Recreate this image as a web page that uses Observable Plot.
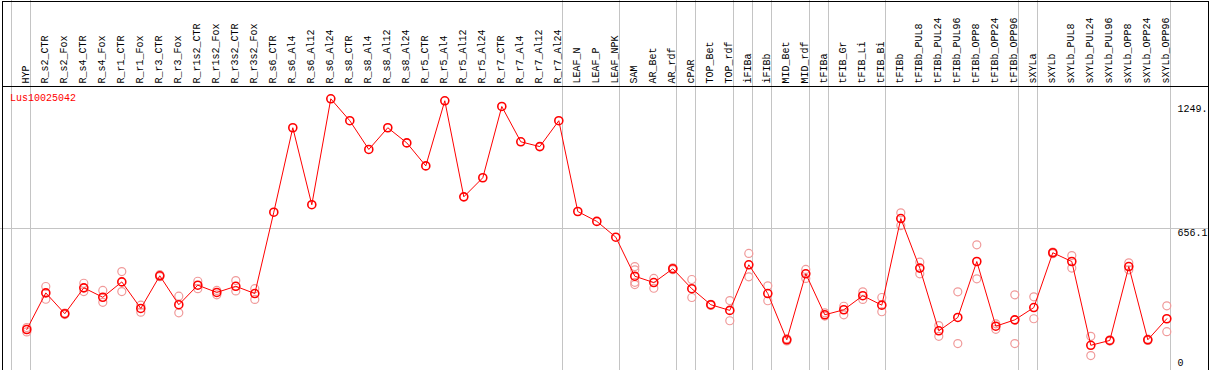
<!DOCTYPE html>
<html><head><meta charset="utf-8">
<script src="https://cdn.jsdelivr.net/npm/d3@7"></script>
<script src="https://cdn.jsdelivr.net/npm/@observablehq/plot@0.6"></script>
<style>html,body{margin:0;padding:0;background:#fff;} svg{display:block}</style>
</head><body><div id="chart"></div>
<script>
const categories = ["HYP","R_s2_CTR","R_s2_Fox","R_s4_CTR","R_s4_Fox","R_r1_CTR","R_r1_Fox","R_r3_CTR","R_r3_Fox","R_r1s2_CTR","R_r1s2_Fox","R_r3s2_CTR","R_r3s2_Fox","R_s6_CTR","R_s6_Al4","R_s6_Al12","R_s6_Al24","R_s8_CTR","R_s8_Al4","R_s8_Al12","R_s8_Al24","R_r5_CTR","R_r5_Al4","R_r5_Al12","R_r5_Al24","R_r7_CTR","R_r7_Al4","R_r7_Al12","R_r7_Al24","LEAF_N","LEAF_P","LEAF_NPK","SAM","AR_Bet","AR_rdf","cPAR","TOP_Bet","TOP_rdf","iFIBa","iFIBb","MID_Bet","MID_rdf","tFIBa","tFIB_Gr","tFIB_Li","tFIB_Bi","tFIBb","tFIBb_PUL8","tFIBb_PUL24","tFIBb_PUL96","tFIBb_OPP8","tFIBb_OPP24","tFIBb_OPP96","sXYLa","sXYLb","sXYLb_PUL8","sXYLb_PUL24","sXYLb_PUL96","sXYLb_OPP8","sXYLb_OPP24","sXYLb_OPP96"];
const means = [197,364,269,387,344,414,293,442,310,399,366,394,361,732,1117,766,1249,1149,1018,1117,1048,943,1240,802,889,1214,1053,1031,1149,735,690,618,440,411,474,383,310,284,492,361,150,451,264,287,351,308,703,477,191,252,507,212,241,297,547,507,125,147,484,150,246];
const replicates = [[206,186],[393,335],[272,265],[408,370],[375,321],[461,370],[308,276],[447,438],[349,273],[417,383],[375,355],[420,373],[383,334],
  [],[],[],[],[],[],[],[],[],[],[],[],[],[],[],[],[],[],[],
  [484,469,412,402],[430,385],[478,470],[425,343],[312,307],[329,237],[544,437],[396,328],[155,145],[471,430],[273,258],[303,264],[369,334],[343,278],
  [729,671],[504,451],[215,166],[369,133],[583,428],[223,198],[355,133],[346,246],[550,543],[534,477],[166,78],[150,144],[501,469],[153,147],[305,187]];
const groupStarts = [0,1,29,32,35,36,38,39,40,42,43,46,53,54,61];
const geneName = "Lus10025042";
const yTickValues = [1249, 656.1, 0];
const yTickLabels = ["1249.", "656.1", "0"];
const gridValues = [656.1];

const meanData = categories.map((c, i) => ({i, c, v: means[i]}));
const repData = categories.flatMap((c, i) => replicates[i].map(v => ({i, v})));
const tickData = yTickValues.map((v, k) => ({v, label: yTickLabels[k], k}));
const tickDy = [10, 4, -10];
const W = 1209, H = 370, headerH = 85;
const font = "Liberation Mono";

const chart = Plot.plot({
  width: W, height: H, margin: 0,
  style: {fontFamily: font, fontSize: "10px", background: "#fff", color: "black"},
  x: {type: "linear", domain: [0, 60], range: [26.3, 1166.3], axis: null},
  y: {type: "linear", domain: [0, 1249], range: [372.2, 98.3], axis: null},
  marks: [
    Plot.ruleX(groupStarts, {x: d => d - 0.78, stroke: "#c4c4c4", strokeWidth: 1, shapeRendering: "crispEdges"}),
    Plot.ruleY(gridValues, {y: d => d, stroke: "#c4c4c4", strokeWidth: 1, shapeRendering: "crispEdges"}),
    Plot.frame({stroke: "black", insetTop: 0.5, insetBottom: H - headerH - 0.5, insetLeft: 1.5, insetRight: 1.5, shapeRendering: "crispEdges"}),
    Plot.frame({stroke: "black", insetTop: 0.5, insetBottom: 0.5, insetLeft: 1.5, insetRight: 1.5, shapeRendering: "crispEdges"}),
    Plot.text(meanData, {x: "i", text: "c", frameAnchor: "top", dx: -0.7, dy: 83, rotate: -90, textAnchor: "start", lineAnchor: "middle", fill: "black"}),
    ...tickData.map(t => Plot.text([t], {y: "v", text: "label", frameAnchor: "right", dx: -32, dy: tickDy[t.k], textAnchor: "start", lineAnchor: "middle", fill: "black"})),
    Plot.text([geneName], {text: d => d, frameAnchor: "top-left", dx: 9.5, dy: 97, textAnchor: "start", lineAnchor: "middle", fill: "red"}),
    Plot.dot(repData, {x: "i", y: "v", r: 4, stroke: "#f09a9a", strokeWidth: 1.2, fill: "none"}),
    Plot.line(meanData, {x: "i", y: "v", stroke: "red", strokeWidth: 1}),
    Plot.dot(meanData, {x: "i", y: "v", r: 4, stroke: "red", strokeWidth: 1.6, fill: "none"})
  ]
});
document.getElementById("chart").appendChild(chart);
</script>
</body></html>
